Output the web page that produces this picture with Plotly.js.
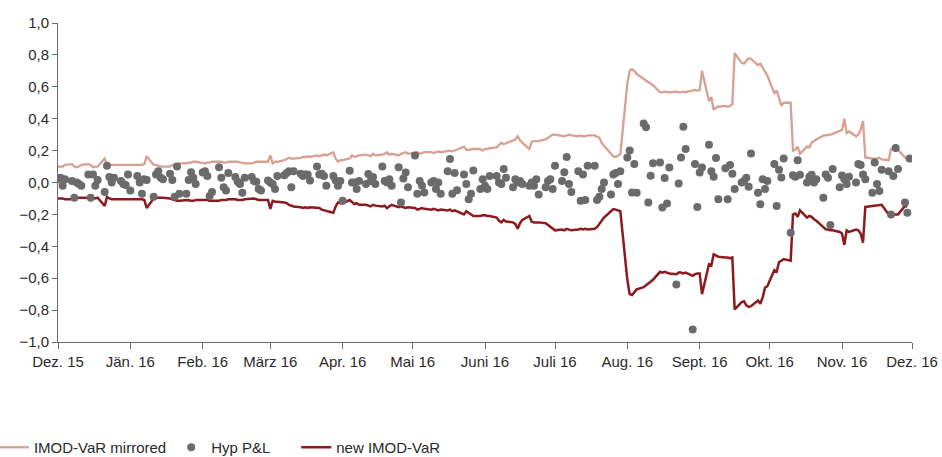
<!DOCTYPE html>
<html>
<head>
<meta charset="utf-8">
<script src="https://cdn.plot.ly/plotly-3.0.1.min.js"></script>
<style>html,body{margin:0;padding:0;background:#fff;}#chart{width:942px;height:457px;}</style>
</head>
<body>
<div id="chart"></div>
<script>
// Series names (legend labels)
const seriesNames = ["IMOD-VaR mirrored", "Hyp P&L\u00a0\u00a0\u00a0\u00a0\u00a0", "new IMOD-VaR"];

// X axis tick dates and labels
const tickDates = ["2015-12-01","2016-01-01","2016-02-01","2016-03-01","2016-04-01","2016-05-01","2016-06-01","2016-07-01","2016-08-01","2016-09-01","2016-10-01","2016-11-01","2016-12-01"];
const tickLabels = ["Dez. 15","Jän. 16","Feb. 16","März 16","Apr. 16","Mai 16","Juni 16","Juli 16","Aug. 16","Sept. 16","Okt. 16","Nov. 16","Dez. 16"];

// Business-day observation period
const periodStart = "2015-12-01";
const periodEnd = "2016-11-30";

// IMOD-VaR mirrored (one value per business day)
const imodVarMirrored = [
  // Dez
  0.10,0.10,0.10,0.11,0.115,0.10,0.095,0.10,0.11,0.115,0.11,0.095,0.10,0.10,0.15,0.11,0.11,0.11,0.11,0.11,0.11,0.11,0.11,
  // Jän
  0.11,0.11,0.11,0.11,0.115,0.165,0.11,0.11,0.105,0.10,0.10,0.10,0.11,0.115,0.12,0.12,0.12,0.125,0.125,0.13,0.13,
  // Feb
  0.12,0.12,0.125,0.125,0.13,0.13,0.13,0.125,0.125,0.13,0.13,0.13,0.125,0.125,0.12,0.12,0.125,0.13,0.13,0.13,0.13,
  // März
  0.17,0.12,0.13,0.13,0.14,0.15,0.155,0.15,0.15,0.155,0.16,0.16,0.165,0.16,0.17,0.165,0.17,0.175,0.17,0.19,0.15,0.13,0.14,
  // Apr
  0.14,0.15,0.17,0.16,0.165,0.17,0.175,0.17,0.165,0.18,0.17,0.175,0.18,0.19,0.175,0.18,0.17,0.18,0.185,0.19,0.18,
  // Mai
  0.185,0.19,0.18,0.185,0.19,0.19,0.185,0.19,0.195,0.19,0.195,0.20,0.195,0.20,0.205,0.225,0.205,0.205,0.21,0.21,0.21,0.20,
  // Juni
  0.21,0.21,0.215,0.22,0.235,0.25,0.24,0.245,0.26,0.27,0.29,0.265,0.25,0.21,0.255,0.26,0.26,0.26,0.27,0.28,0.29,0.30,
  // Juli
  0.30,0.295,0.29,0.295,0.30,0.295,0.29,0.295,0.29,0.29,0.295,0.295,0.29,0.28,0.25,0.23,0.18,0.165,0.16,0.17,0.178,
  // Aug
  0.62,0.70,0.71,0.70,0.68,0.65,0.64,0.635,0.62,0.61,0.566,0.565,0.57,0.566,0.565,0.57,0.565,0.566,0.57,0.566,0.575,0.58,0.575,
  // Sept
  0.58,0.70,0.51,0.535,0.455,0.47,0.475,0.48,0.475,0.48,0.49,0.81,0.75,0.745,0.76,0.78,0.775,0.735,0.745,0.72,0.70,0.67,
  // Okt
  0.56,0.577,0.53,0.48,0.50,0.50,0.20,0.205,0.225,0.18,0.225,0.22,0.25,0.26,0.27,0.294,0.295,0.30,0.30,0.305,0.325,
  // Nov
  0.33,0.40,0.31,0.32,0.29,0.30,0.33,0.385,0.157,0.15,0.15,0.15,0.155,0.145,0.14,0.21,0.215,0.205,0.205,0.157,0.15
];

// new IMOD-VaR
const newImodVar = [
  // Dez
  -0.10,-0.10,-0.10,-0.105,-0.105,-0.10,-0.10,-0.095,-0.095,-0.095,-0.095,-0.095,-0.10,-0.095,-0.147,-0.09,-0.10,-0.105,-0.105,-0.105,-0.105,-0.105,-0.105,
  // Jän
  -0.105,-0.105,-0.105,-0.105,-0.11,-0.16,-0.10,-0.095,-0.095,-0.095,-0.095,-0.10,-0.105,-0.11,-0.115,-0.115,-0.11,-0.11,-0.115,-0.115,-0.11,
  // Feb
  -0.11,-0.11,-0.11,-0.115,-0.115,-0.115,-0.11,-0.11,-0.11,-0.105,-0.105,-0.11,-0.11,-0.11,-0.105,-0.10,-0.10,-0.105,-0.11,-0.11,-0.11,
  // März
  -0.165,-0.115,-0.12,-0.12,-0.125,-0.13,-0.14,-0.145,-0.15,-0.155,-0.16,-0.155,-0.16,-0.155,-0.16,-0.16,-0.17,-0.175,-0.175,-0.19,-0.15,-0.125,-0.13,
  // Apr
  -0.13,-0.11,-0.12,-0.135,-0.13,-0.14,-0.14,-0.145,-0.15,-0.14,-0.145,-0.15,-0.145,-0.16,-0.15,-0.14,-0.155,-0.15,-0.155,-0.16,-0.155,
  // Mai
  -0.16,-0.17,-0.165,-0.16,-0.165,-0.17,-0.165,-0.17,-0.175,-0.17,-0.175,-0.17,-0.18,-0.175,-0.18,-0.2,-0.18,-0.19,-0.2,-0.21,-0.21,-0.205,
  // Juni
  -0.205,-0.21,-0.21,-0.22,-0.24,-0.25,-0.235,-0.245,-0.25,-0.26,-0.29,-0.255,-0.235,-0.21,-0.245,-0.25,-0.25,-0.25,-0.255,-0.265,-0.28,-0.29,
  // Juli
  -0.30,-0.295,-0.30,-0.29,-0.295,-0.30,-0.295,-0.29,-0.295,-0.29,-0.295,-0.29,-0.28,-0.26,-0.24,-0.22,-0.18,-0.167,-0.17,-0.175,-0.18,
  // Aug
  -0.61,-0.70,-0.705,-0.69,-0.67,-0.656,-0.645,-0.63,-0.62,-0.61,-0.56,-0.565,-0.56,-0.565,-0.57,-0.575,-0.565,-0.565,-0.57,-0.565,-0.585,-0.575,-0.57,
  // Sept
  -0.57,-0.70,-0.513,-0.52,-0.45,-0.46,-0.465,-0.47,-0.47,-0.475,-0.47,-0.796,-0.75,-0.745,-0.77,-0.78,-0.775,-0.74,-0.76,-0.72,-0.66,-0.65,
  // Okt
  -0.55,-0.56,-0.50,-0.49,-0.48,-0.49,-0.20,-0.195,-0.215,-0.175,-0.22,-0.21,-0.215,-0.23,-0.24,-0.28,-0.293,-0.295,-0.30,-0.30,-0.31,
  // Nov
  -0.32,-0.39,-0.30,-0.31,-0.295,-0.30,-0.32,-0.377,-0.153,-0.147,-0.145,-0.145,-0.14,-0.14,-0.20,-0.20,-0.205,-0.20,-0.20,-0.147,-0.15
];

// Hyp P&L (one value per business day)
const hypPnL = [
  // Dez
  0.02,0.03,-0.02,0.02,0.01,-0.095,0.0,-0.01,-0.02,0.05,-0.095,0.05,-0.02,0.015,-0.06,0.105,0.035,0.0,0.03,0.01,-0.01,-0.015,0.05,
  // Jän
  -0.05,0.04,0.0,-0.07,0.02,0.015,-0.09,0.05,0.07,0.03,0.02,0.055,0.015,-0.09,0.1,-0.07,-0.07,0.015,0.065,0.03,-0.01,
  // Feb
  0.063,0.07,0.04,-0.084,-0.06,0.095,0.03,-0.03,-0.05,0.06,0.035,0.005,-0.01,-0.065,0.03,0.035,0.01,0.005,-0.04,-0.05,0.013,
  // März
  0.0,-0.01,-0.04,0.04,0.045,0.06,0.07,-0.03,0.07,0.055,0.04,0.05,0.05,0.013,0.1,0.05,0.055,0.04,-0.02,0.04,0.013,-0.02,0.01,
  // Apr
  -0.115,0.074,0.0,0.0,-0.04,0.01,-0.01,0.053,0.01,0.035,-0.01,0.1,0.01,0.0,0.02,-0.02,0.095,-0.125,0.025,0.063,-0.03,
  // Mai
  0.17,-0.07,0.01,-0.02,-0.063,0.0,0.01,-0.04,0.0,-0.07,0.07,0.147,-0.07,0.06,-0.048,0.05,-0.01,-0.105,-0.07,0.075,-0.04,0.02,
  // Juni
  -0.02,-0.04,0.04,0.04,0.0,-0.01,0.085,0.03,-0.03,0.02,0.0,0.01,-0.01,-0.02,0.0,-0.02,0.02,-0.075,-0.03,0.01,0.02,-0.04,
  // Juli
  0.105,0.01,0.065,0.16,-0.01,-0.06,0.07,-0.115,0.05,-0.11,0.105,0.105,-0.11,-0.09,-0.04,0.0,-0.075,0.05,0.06,-0.01,0.07,
  // Aug
  0.157,0.2,-0.063,0.116,-0.065,0.37,0.346,-0.126,0.042,0.12,0.125,-0.157,0.028,-0.132,0.094,-0.64,-0.006,0.157,0.35,0.21,-0.922,0.116,-0.153,
  // Sept
  0.063,0.094,0.237,0.07,0.036,0.153,-0.105,0.09,-0.105,0.11,0.055,-0.04,0.0,0.01,0.03,-0.027,0.182,-0.065,-0.136,0.02,-0.04,0.01,
  // Okt
  0.116,-0.147,0.08,0.032,0.15,-0.315,0.045,0.036,0.14,0.048,0.0,0.036,0.048,0.0,0.02,-0.095,0.05,0.03,-0.266,0.084,-0.03,
  // Nov
  0.044,0.02,-0.01,0.036,0.0,0.116,0.11,0.05,0.02,-0.065,0.125,-0.01,-0.053,0.08,0.07,-0.2,0.04,0.216,0.084,-0.126,-0.19,0.15
];

// Build the business-day date list
function businessDays(start, end) {
  const out = [];
  const d = new Date(start + "T00:00:00Z");
  const e = new Date(end + "T00:00:00Z");
  while (d <= e) {
    const wd = d.getUTCDay();
    if (wd !== 0 && wd !== 6) out.push(d.toISOString().slice(0, 10));
    d.setUTCDate(d.getUTCDate() + 1);
  }
  return out;
}
const dates = businessDays(periodStart, periodEnd);

const FONT = "'Liberation Sans', Arial, sans-serif";
const AXIS = "#6b6b6b";
const TEXT = "#2a2a2a";

const traces = [
  {
    x: dates.slice(0, imodVarMirrored.length), y: imodVarMirrored,
    name: seriesNames[0], type: "scatter", mode: "lines",
    line: {color: "#d8a093", width: 2.3}, legendrank: 1
  },
  {
    x: dates.slice(0, newImodVar.length), y: newImodVar,
    name: seriesNames[2], type: "scatter", mode: "lines",
    line: {color: "#8c1a1e", width: 2.5}, legendrank: 3
  },
  {
    x: dates.slice(0, hypPnL.length), y: hypPnL,
    name: seriesNames[1], type: "scatter", mode: "markers",
    marker: {color: "#6b6b6b", size: 8}, legendrank: 2
  }
];

const layout = {
  width: 942, height: 457,
  margin: {l: 58, r: 30, t: 23, b: 115, autoexpand: false},
  paper_bgcolor: "#fff", plot_bgcolor: "#fff",
  separators: ",.",
  font: {family: FONT, size: 15, color: TEXT},
  showlegend: true,
  legend: {
    orientation: "h",
    x: -0.075, xanchor: "left",
    y: -0.279, yanchor: "top",
    font: {family: FONT, size: 15, color: TEXT},
    itemwidth: 30, traceorder: "normal", bgcolor: "rgba(0,0,0,0)"
  },
  xaxis: {
    type: "date", range: ["2015-12-01", "2016-12-01"],
    tickmode: "array", tickvals: tickDates, ticktext: tickLabels,
    showgrid: false, zeroline: false,
    showline: true, linecolor: AXIS, linewidth: 1,
    ticks: "outside", ticklen: 6, tickcolor: AXIS, tickwidth: 1,
    tickfont: {family: FONT, size: 15, color: TEXT}
  },
  yaxis: {
    range: [-1, 1], dtick: 0.2, tick0: 0, tickformat: ".1f",
    showgrid: false, zeroline: false,
    showline: true, linecolor: AXIS, linewidth: 1,
    ticks: "outside", ticklen: 5, tickcolor: AXIS, tickwidth: 1,
    tickfont: {family: FONT, size: 15, color: TEXT}
  }
};

Plotly.newPlot("chart", traces, layout, {displayModeBar: false, staticPlot: true});
</script>
</body>
</html>
